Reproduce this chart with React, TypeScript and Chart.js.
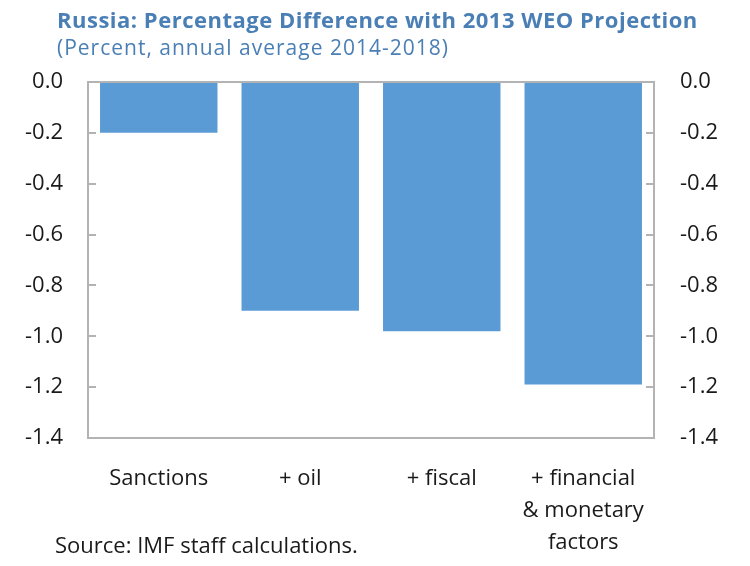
import React, { useEffect, useRef } from "react";
import { Chart, registerables } from "chart.js";

Chart.register(...registerables);

const categories: string[][] = [["Sanctions"], ["+ oil"], ["+ fiscal"], ["+ financial", "& monetary", "factors"]];
const values: number[] = [-0.2, -0.9, -0.98, -1.19];
const yMin = -1.4;
const yMax = 0;
const yStep = 0.2;

const titleText = "Russia: Percentage Difference with 2013 WEO Projection";
const subtitleText = "(Percent, annual average 2014-2018)";
const sourceText = "Source: IMF staff calculations.";

const FONT = "'Open Sans', 'Noto Sans', sans-serif";
const BLUE_TEXT = "#4a7fb5";
const BORDER = "#b3b3b3";

const framePlugin = {
  id: "frame",
  afterDatasetsDraw(chart: any) {
    const { ctx, chartArea } = chart;
    const y = chart.scales.y;
    ctx.save();
    ctx.strokeStyle = BORDER;
    ctx.lineWidth = 2;
    ctx.strokeRect(chartArea.left, chartArea.top, chartArea.right - chartArea.left, chartArea.bottom - chartArea.top);
    y.ticks.forEach((t: any) => {
      const py = Math.round(y.getPixelForValue(t.value));
      ctx.beginPath();
      ctx.moveTo(chartArea.left, py);
      ctx.lineTo(chartArea.left + 8, py);
      ctx.moveTo(chartArea.right, py);
      ctx.lineTo(chartArea.right - 8, py);
      ctx.stroke();
    });
    ctx.restore();
  },
  afterDraw(chart: any) {
    const { ctx } = chart;
    ctx.save();
    ctx.textAlign = "left";
    ctx.textBaseline = "alphabetic";
    ctx.fillStyle = BLUE_TEXT;
    ctx.font = `bold 22px ${FONT}`;
    (ctx as any).letterSpacing = "0.5px";
    ctx.fillText(titleText, 57, 28);
    ctx.font = `21px ${FONT}`;
    (ctx as any).letterSpacing = "1px";
    ctx.fillText(subtitleText, 57, 55);
    (ctx as any).letterSpacing = "0px";
    ctx.fillStyle = "#1a1a1a";
    ctx.font = `22px ${FONT}`;
    ctx.fillText(sourceText, 55, 553);
    ctx.restore();
  },
};

export default function App() {
  const ref = useRef<HTMLCanvasElement>(null);
  useEffect(() => {
    if (!ref.current) return;
    const chart = new Chart(ref.current, {
      type: "bar",
      data: {
        labels: categories,
        datasets: [
          {
            data: values,
            backgroundColor: "#5b9bd5",
            borderWidth: 0,
            barPercentage: 0.83,
            categoryPercentage: 1,
          },
        ],
      },
      options: {
        responsive: false,
        animation: false,
        layout: { padding: { top: 82, left: 0, right: 0, bottom: 0 } },
        plugins: { legend: { display: false }, tooltip: { enabled: false }, title: { display: false } },
        scales: {
          x: {
            grid: { display: false },
            border: { display: false },
            ticks: {
              color: "#1a1a1a",
              font: { family: FONT, size: 22, lineHeight: 1.45 },
              padding: 17,
              maxRotation: 0,
              autoSkip: false,
            },
            afterFit(scale: any) {
              scale.height = 128;
            },
          },
          y: {
            position: "left",
            min: yMin,
            max: yMax,
            grid: { display: false, drawTicks: false },
            border: { display: false },
            ticks: {
              stepSize: yStep,
              padding: 25,
              color: "#1a1a1a",
              font: { family: FONT, size: 22 },
              callback: (v: any) => Number(v).toFixed(1),
            },
            afterFit(scale: any) {
              scale.width = 88;
            },
          },
          y2: {
            position: "right",
            min: yMin,
            max: yMax,
            grid: { display: false, drawTicks: false },
            border: { display: false },
            ticks: {
              stepSize: yStep,
              padding: 26,
              color: "#1a1a1a",
              font: { family: FONT, size: 22 },
              callback: (v: any) => Number(v).toFixed(1),
            },
            afterFit(scale: any) {
              scale.width = 96;
            },
          },
        },
      },
      plugins: [framePlugin],
    });
    return () => chart.destroy();
  }, []);
  return (
    <div style={{ position: "absolute", left: 0, top: 0, width: 750, height: 566, background: "#fff" }}>
      <canvas ref={ref} width={750} height={566} />
    </div>
  );
}
